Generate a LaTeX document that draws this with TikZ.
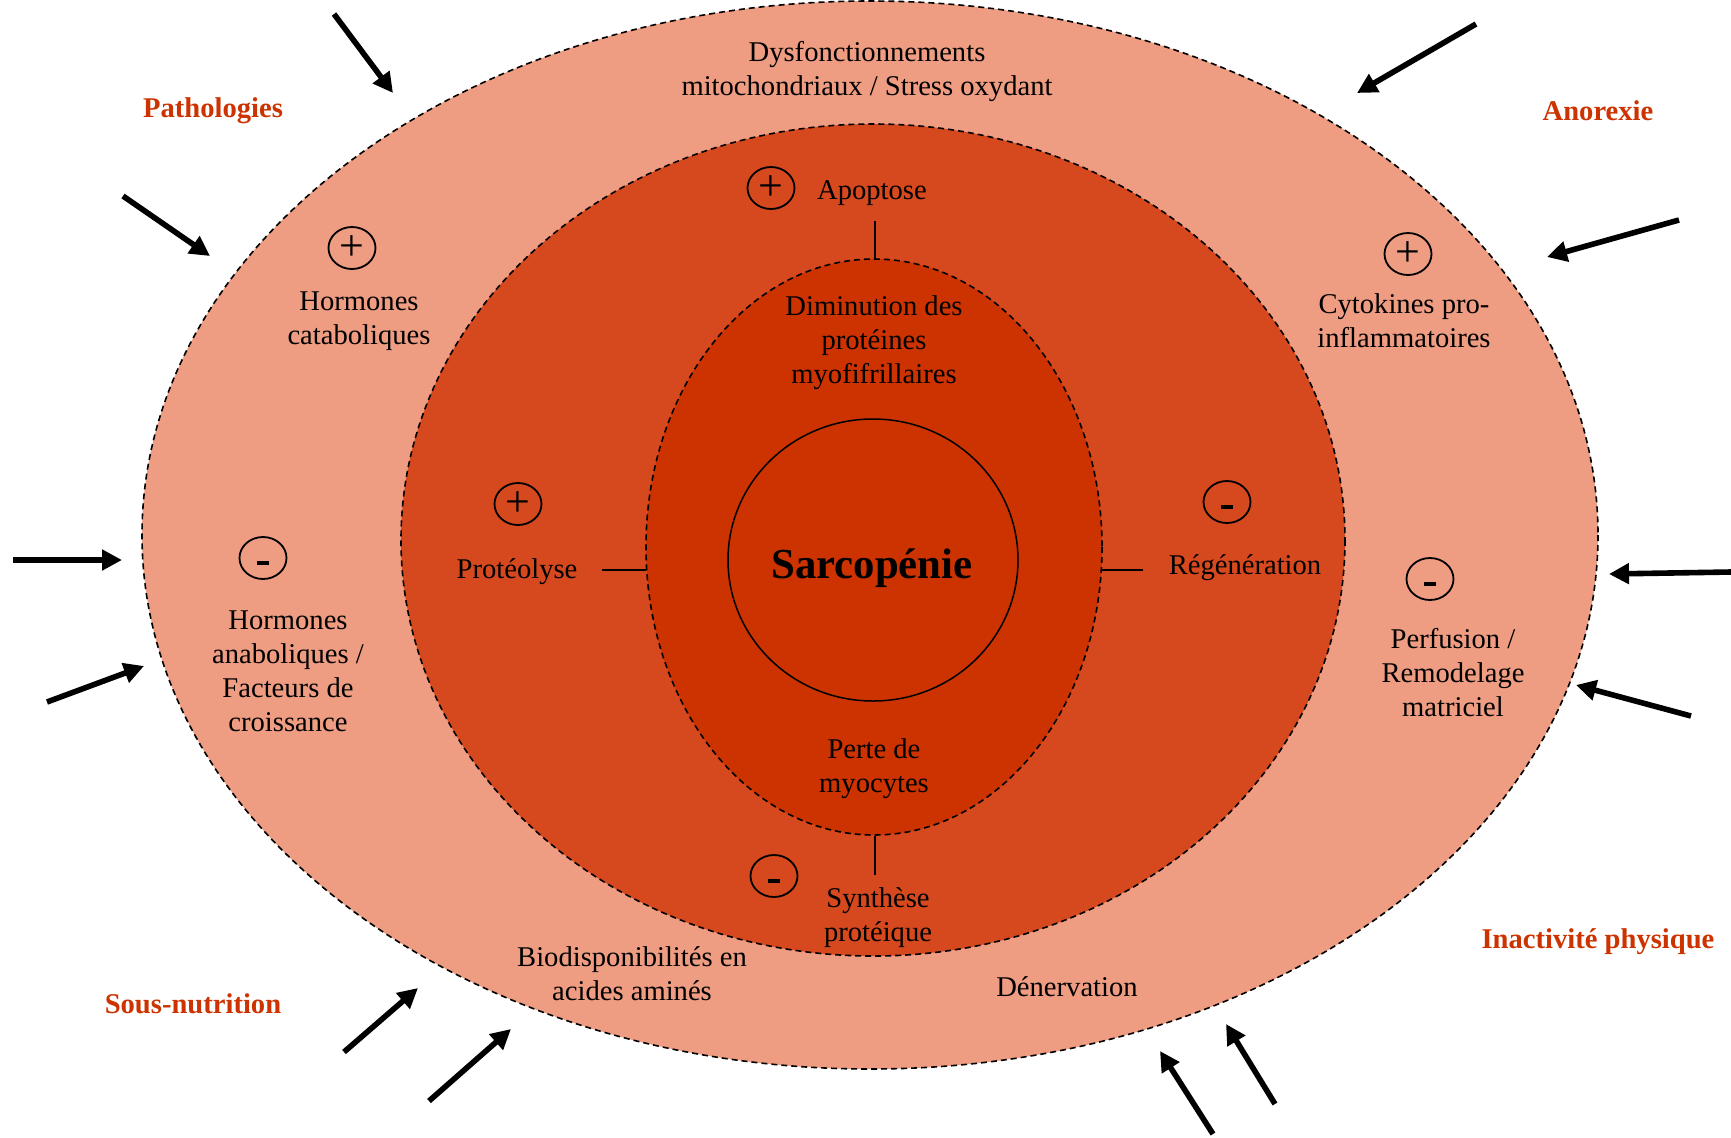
\documentclass[tikz,border=0pt]{standalone}
\usepackage{fontspec}
\setmainfont{Liberation Serif}
\usetikzlibrary{arrows.meta,shapes.geometric}

\definecolor{outerfill}{RGB}{238,156,130}
\definecolor{midfill}{RGB}{214,72,30}
\definecolor{corefill}{RGB}{204,51,0}
\definecolor{causered}{RGB}{204,51,0}

\tikzset{
  ringline/.style={draw=black, line width=0.8pt, dash pattern=on 3pt off 2pt},
  lbl/.style={align=center, inner sep=0pt, yshift=-0.7pt, font=\fontsize{14.3}{17}\selectfont},
  cause/.style={inner sep=0pt, yshift=-0.5pt, text=causered, font=\fontsize{14.3}{17}\selectfont\bfseries},
  signbase/.style={draw, ellipse, line width=0.9pt, minimum width=23.5pt, minimum height=21pt, inner sep=0pt},
  signplus/.style={signbase, font=\fontsize{22}{22}\selectfont},
  signminus/.style={signbase, text height=11.6pt, text depth=0pt},
  tickline/.style={line width=1.2pt},
  pusharrow/.style={line width=2.8pt, -{Triangle[length=10pt,width=10pt]}}
}

\begin{document}
\begin{tikzpicture}[x=0.5pt, y=-0.5pt]
\useasboundingbox (0,0) rectangle (1731,1137);

\draw[ringline, fill=outerfill] (870,535) ellipse [x radius=728, y radius=534];
\draw[ringline, fill=midfill] (873,540) ellipse [x radius=472, y radius=416];
\draw[ringline, fill=corefill] (874,547) ellipse [x radius=228, y radius=288];
\draw[line width=0.75pt] (873,560) ellipse [x radius=145, y radius=141];

\node[lbl] (dysf) at (867,70) {Dysfonctionnements\\mitochondriaux / Stress oxydant};
\node[cause] (patho) at (213,110) {Pathologies};
\node[cause] (anor) at (1598,110) {Anorexie};
\node[cause] (sousn) at (193,1003) {Sous-nutrition};
\node[cause] (inact) at (1598,941) {Inactivité physique};

\node[lbl] (apop) at (872,192) {Apoptose};
\node[signplus] (apopS) at (771,188) {+};
\node[lbl] (dimin) at (874,341) {Diminution des\\protéines\\myofifrillaires};
\node[lbl] (hcat) at (359,320) {Hormones\\cataboliques};
\node[signplus] (hcatS) at (352,248) {+};
\node[lbl] (cyto) at (1404,319) {Cytokines pro-\\inflammatoires};
\node[signplus] (cytoS) at (1408,254) {+};
\node[lbl] (proteo) at (517,570) {Protéolyse};
\node[signplus] (proteoS) at (518,504) {+};
\node[inner sep=0pt, font=\fontsize{21.4}{24}\selectfont\bfseries] (sarco) at (872,568) {Sarcopénie};
\node[lbl] (regen) at (1245,566) {Régénération};
\node[signminus] (regenS) at (1227,502) {\rule[2.5pt]{6pt}{2pt}};
\node[lbl] (hana) at (288,670) {Hormones\\anaboliques /\\Facteurs de\\croissance};
\node[signminus] (hanaS) at (263,558) {\rule[2.5pt]{6pt}{2pt}};
\node[lbl] (perf) at (1453,671) {Perfusion /\\Remodelage\\matriciel};
\node[signminus] (perfS) at (1430,579) {\rule[2.5pt]{6pt}{2pt}};
\node[lbl] (perte) at (874,767) {Perte de\\myocytes};
\node[lbl] (synth) at (878,916) {Synthèse\\protéique};
\node[signminus] (synthS) at (774,876) {\rule[2.5pt]{6pt}{2pt}};
\node[lbl] (biod) at (632,972) {Biodisponibilités en\\acides aminés};
\node[lbl] (dener) at (1067,985) {Dénervation};

\coordinate (apopT) at (875,221);
\coordinate (innerN) at (875,259);
\coordinate (proteoT) at (602,570);
\coordinate (innerW) at (646,570);
\coordinate (regenT) at (1143,570);
\coordinate (innerE) at (1102,570);
\coordinate (synthT) at (875,875);
\coordinate (innerS) at (875,836);
\draw[tickline] (apopT) -- (innerN);
\draw[tickline] (proteoT) -- (innerW);
\draw[tickline] (regenT) -- (innerE);
\draw[tickline] (synthT) -- (innerS);

\foreach \xa/\ya/\xb/\yb [count=\i] in {334/14/393/93, 123/196/210/256, 13/560/122/560,
    47/702/144/666, 344/1052/418/988, 429/1101/511/1029, 1213/1134/1160/1051,
    1275/1104/1226/1024, 1691/716/1576/685, 1731/572/1609/574, 1679/220/1547/257,
    1476/24/1357/93}
{
  \coordinate (from\i) at (\xa,\ya);
  \coordinate (to\i) at (\xb,\yb);
  \draw[pusharrow] (from\i) -- (to\i);
}
\end{tikzpicture}
\end{document}
